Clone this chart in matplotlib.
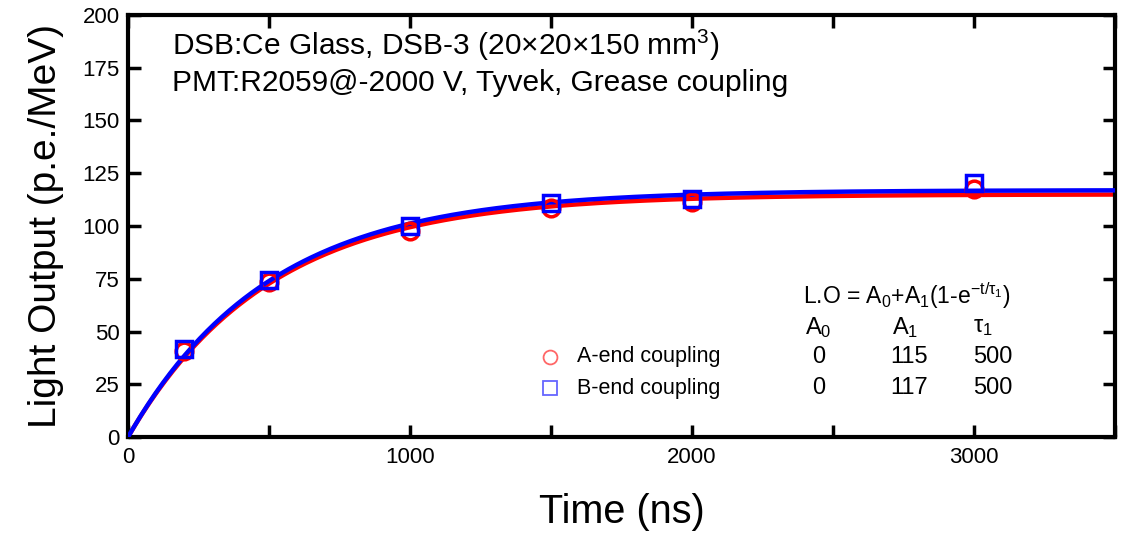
import numpy as np
import matplotlib
matplotlib.use("Agg")
import matplotlib.pyplot as plt
from matplotlib.ticker import MultipleLocator

# measured points
time_ns = [200, 500, 1000, 1500, 2000, 3000]
lo_a_end = [41.0, 73.5, 97.5, 108.5, 111.5, 117.5]
lo_b_end = [41.5, 74.5, 100.0, 111.0, 113.0, 120.5]

# fit parameters: L.O = A0 + A1 (1 - exp(-t/tau1))
fit_a = dict(A0=0, A1=115, tau1=500)
fit_b = dict(A0=0, A1=117, tau1=500)

font = ["Liberation Sans", "DejaVu Sans"]
plt.rcParams["font.family"] = font
plt.rcParams["mathtext.fontset"] = "custom"
plt.rcParams["mathtext.rm"] = "Liberation Sans"
plt.rcParams["mathtext.it"] = "Liberation Sans"

fig = plt.figure(figsize=(11.27, 5.33), dpi=100)
ax = fig.add_axes([0.1136, 0.180, 0.8758, 0.792])

t = np.linspace(0, 3500, 400)


def model(p):
    return p["A0"] + p["A1"] * (1 - np.exp(-t / p["tau1"]))


ax.plot(t, model(fit_a), color="red", lw=3.2, zorder=2)
ax.plot(t, model(fit_b), color="blue", lw=3.2, zorder=3)
ax.plot(time_ns, lo_a_end, "o", mfc="none", mec="red", ms=12, mew=2.5, zorder=4)
ax.plot(time_ns, lo_b_end, "s", mfc="none", mec="blue", ms=12, mew=2.5, zorder=5)

ax.set_xlim(0, 3500)
ax.set_ylim(0, 200)
ax.xaxis.set_major_locator(MultipleLocator(1000))
ax.xaxis.set_minor_locator(MultipleLocator(500))
ax.yaxis.set_major_locator(MultipleLocator(25))
ax.tick_params(which="both", direction="in", top=True, right=True, width=2.5)
ax.tick_params(which="major", length=9, labelsize=16)
ax.tick_params(axis="x", pad=7)
ax.tick_params(axis="y", pad=6)
ax.tick_params(which="minor", length=9)
for s in ax.spines.values():
    s.set_linewidth(3)

ax.set_xlabel("Time (ns)", fontsize=28.5, labelpad=18)
ax.set_ylabel("Light Output (p.e./MeV)", fontsize=28, labelpad=13)

ax.text(0.045, 0.927, r"DSB:Ce Glass, DSB-3 (20$\times$20$\times$150 mm$^3$)",
        transform=ax.transAxes, fontsize=21.5, va="center")
ax.text(0.045, 0.838, "PMT:R2059@-2000 V, Tyvek, Grease coupling",
        transform=ax.transAxes, fontsize=21.5, va="center")

# legend + fit table
rows = [("A-end coupling", "o", "red", fit_a, 0.19),
        ("B-end coupling", "s", "blue", fit_b, 0.116)]
for label, mk, col, p, yy in rows:
    ax.plot([0.4276], [yy], mk, transform=ax.transAxes, mfc="none", mec=col,
            ms=10, mew=1.3, alpha=0.6, clip_on=False)
    ax.text(0.455, yy, label, transform=ax.transAxes, fontsize=15.5, va="center")
    ax.text(0.693, yy, str(p["A0"]), transform=ax.transAxes, fontsize=17, va="center")
    ax.text(0.772, yy, str(p["A1"]), transform=ax.transAxes, fontsize=17, va="center")
    ax.text(0.856, yy, str(p["tau1"]), transform=ax.transAxes, fontsize=17, va="center")

ax.text(0.684, 0.336, r"L.O = A$_0$+A$_1$(1-e$^{-t/\tau_1}$)", transform=ax.transAxes,
        fontsize=16.5, va="center")
ax.text(0.686, 0.26, r"A$_0$", transform=ax.transAxes, fontsize=17, va="center")
ax.text(0.774, 0.26, r"A$_1$", transform=ax.transAxes, fontsize=17, va="center")
ax.text(0.856, 0.26, r"$\tau_1$", transform=ax.transAxes, fontsize=17, va="center")

fig.savefig("out.png", dpi=100)
